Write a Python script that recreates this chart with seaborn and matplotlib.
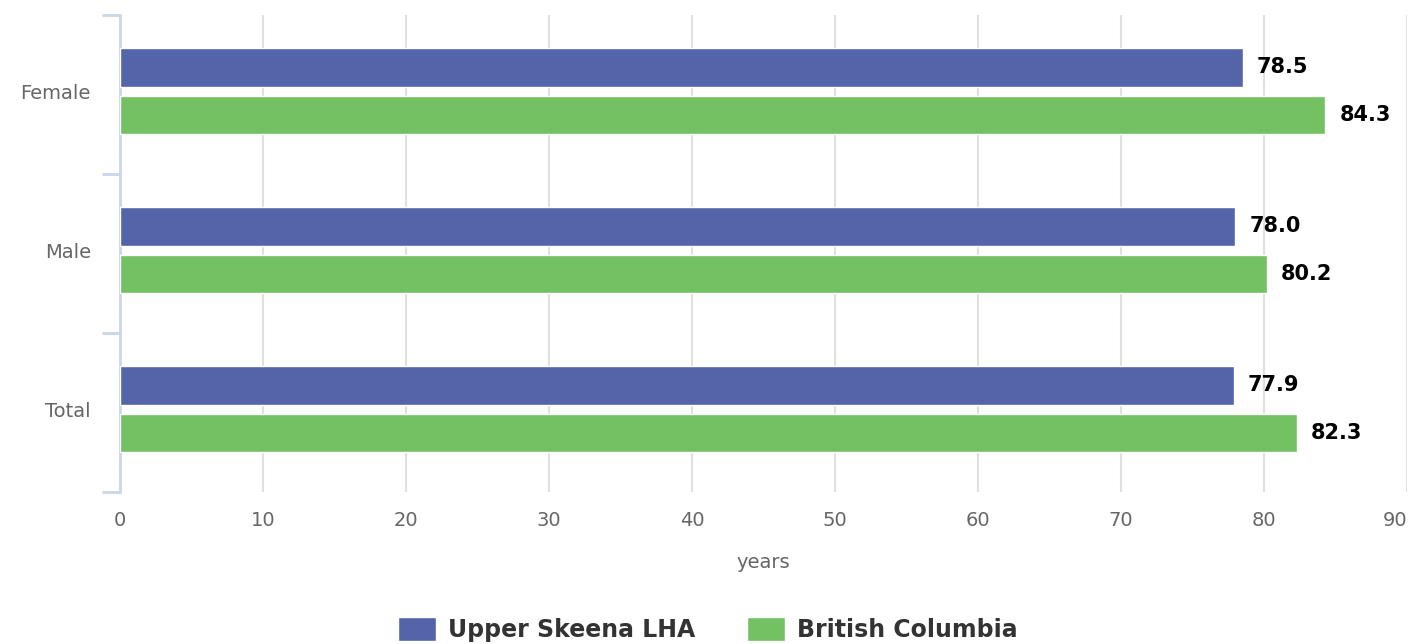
import matplotlib
matplotlib.use("Agg")
import matplotlib.pyplot as plt
import seaborn as sns
import pandas as pd
from matplotlib.ticker import FixedLocator

categories = ["Female", "Male", "Total"]
series_names = ["Upper Skeena LHA", "British Columbia"]
upper_skeena = [78.5, 78.0, 77.9]
british_columbia = [84.3, 80.2, 82.3]
x_ticks = [0, 10, 20, 30, 40, 50, 60, 70, 80, 90]
colors = ["#5464a8", "#73c163"]

rows = []
for c, v in zip(categories, upper_skeena):
    rows.append({"cat": c, "series": series_names[0], "value": v})
for c, v in zip(categories, british_columbia):
    rows.append({"cat": c, "series": series_names[1], "value": v})
df = pd.DataFrame(rows)

sns.set_theme(style="white")
plt.rcParams["font.family"] = ["DejaVu Sans"]

fig = plt.figure(figsize=(14.1, 6.44), dpi=100)
ax = fig.add_axes([120 / 1410, 1 - 492 / 644, 1287 / 1410, 477 / 644])

sns.barplot(data=df, y="cat", x="value", hue="series", order=categories,
            hue_order=series_names, palette=colors, orient="h",
            width=0.6, gap=0.2, saturation=1, ax=ax, legend=True, zorder=3)

ax.set_xlim(0, 90)
ax.set_ylim(2.52, -0.48)
ax.set_xticks(x_ticks)
ax.set_xticklabels([str(t) for t in x_ticks], color="#666666", fontsize=14)
ax.tick_params(axis="x", length=0, pad=14)
ax.get_xticklabels()[-1].set_horizontalalignment("right")
ax.grid(axis="x", color="#e0e0e0", linewidth=1.5, zorder=0)
ax.set_axisbelow(True)

ax.set_yticks(range(len(categories)))
ax.set_yticklabels(categories, color="#666666", fontsize=14)
ax.tick_params(axis="y", which="major", left=False, length=0, pad=21)
ax.yaxis.set_minor_locator(FixedLocator([-0.48, 0.52, 1.52, 2.52]))
ax.tick_params(axis="y", which="minor", left=True, length=13, width=2,
               color="#ccd6eb", direction="out")

for s in ["top", "right", "bottom"]:
    ax.spines[s].set_visible(False)
ax.spines["left"].set_color("#ccd6eb")
ax.spines["left"].set_linewidth(2)

ax.set_xlabel("years", color="#666666", fontsize=14, labelpad=16)
ax.set_ylabel("")

for cont in ax.containers:
    ax.bar_label(cont, fmt="%.1f", padding=10, fontsize=15, fontweight="bold",
                 color="#000000")

handles, labels = ax.get_legend_handles_labels()
ax.get_legend().remove()
fig.legend(handles, labels, loc="lower center", bbox_to_anchor=(0.502, -0.03),
           ncol=2, frameon=False, handlelength=1.6, handleheight=1.2,
           handletextpad=0.5, columnspacing=2.2,
           prop={"weight": "bold", "size": 17}, labelcolor="#333333")

fig.savefig("out.png", dpi=100)
